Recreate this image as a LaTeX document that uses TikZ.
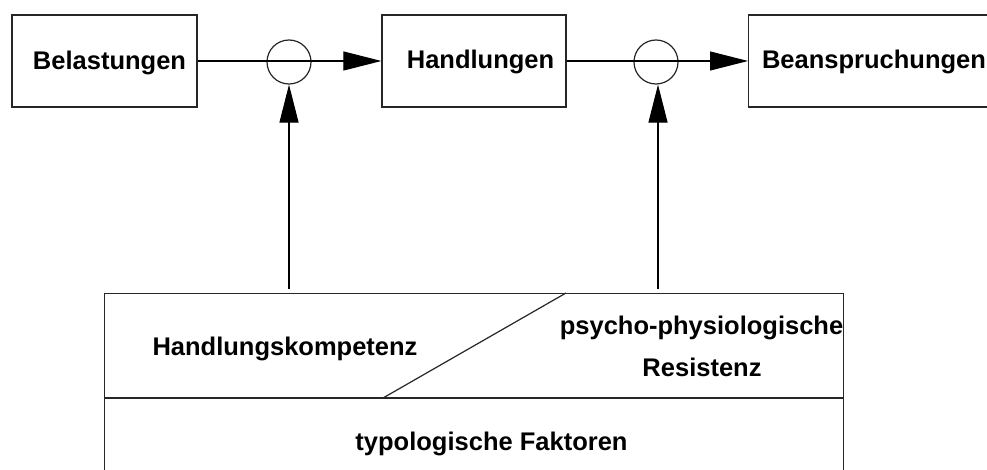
\documentclass[tikz,border=0pt]{standalone}
\usepackage{fontspec}
\setmainfont{Liberation Sans}
\usetikzlibrary{arrows.meta}
\tikzset{
  frame/.style={draw=black!85, line width=1.2pt, inner sep=0pt, minimum height=92pt},
  junction/.style={draw=black!85, line width=1.2pt, circle, inner sep=0pt, minimum size=44pt},
  arr/.style={draw=black, line width=1.1pt, -{Triangle[length=38pt,width=19pt]}},
  lbl/.style={inner sep=0pt, anchor=base, font=\fontsize{25.5}{30}\selectfont\bfseries},
  rule/.style={draw=black!85, line width=1.2pt}
}
\begin{document}
\begin{tikzpicture}[x=1pt,y=-1pt]
\useasboundingbox (0,0) rectangle (987,470);
\clip (0,0) rectangle (987,470);
\fill[white] (0,0) rectangle (987,470);

% top row of boxes
\node[frame, minimum width=185pt] (bel) at (104.5,61) {};
\node[frame, minimum width=184pt] (hand) at (474,61) {};
\node[frame, minimum width=260pt, anchor=west] (bean) at (748,61) {};
\node[lbl] (tbel) at (109.5,70) {Belastungen};
\node[lbl] (thand) at (480.5,68.5) {Handlungen};
\node[lbl] (tbean) at (874,69) {Beanspruchungen};

% junction circles
\node[junction] (j1) at (289,62) {};
\node[junction] (j2) at (656,62) {};

% forward flow
\draw[arr] (bel.east) -- (hand.west);
\draw[arr] (hand.east) -- (bean.west);

% lower block
\node[frame, minimum width=739pt, minimum height=200pt, anchor=north west] (base) at (104,293) {};
\coordinate (dl) at (104,398);
\coordinate (dr) at (843,398);
\coordinate (sl) at (383,398);
\coordinate (su) at (566,293);
\draw[rule] (dl) -- (dr);
\draw[rule] (sl) -- (su);
\node[lbl] (tkomp) at (285,355) {Handlungskompetenz};
\node[lbl] (tpsy) at (701.5,334) {psycho-physiologische};
\node[lbl] (tres) at (702,376) {Resistenz};
\node[lbl] (ttyp) at (491.5,450) {typologische Faktoren};

% influences from the lower block
\coordinate (k1) at (289,289);
\coordinate (k2) at (658,289);
\draw[arr] (k1) -- (j1.south);
\draw[arr] (k2) -- (k2 |- j2.south);
\end{tikzpicture}
\end{document}
